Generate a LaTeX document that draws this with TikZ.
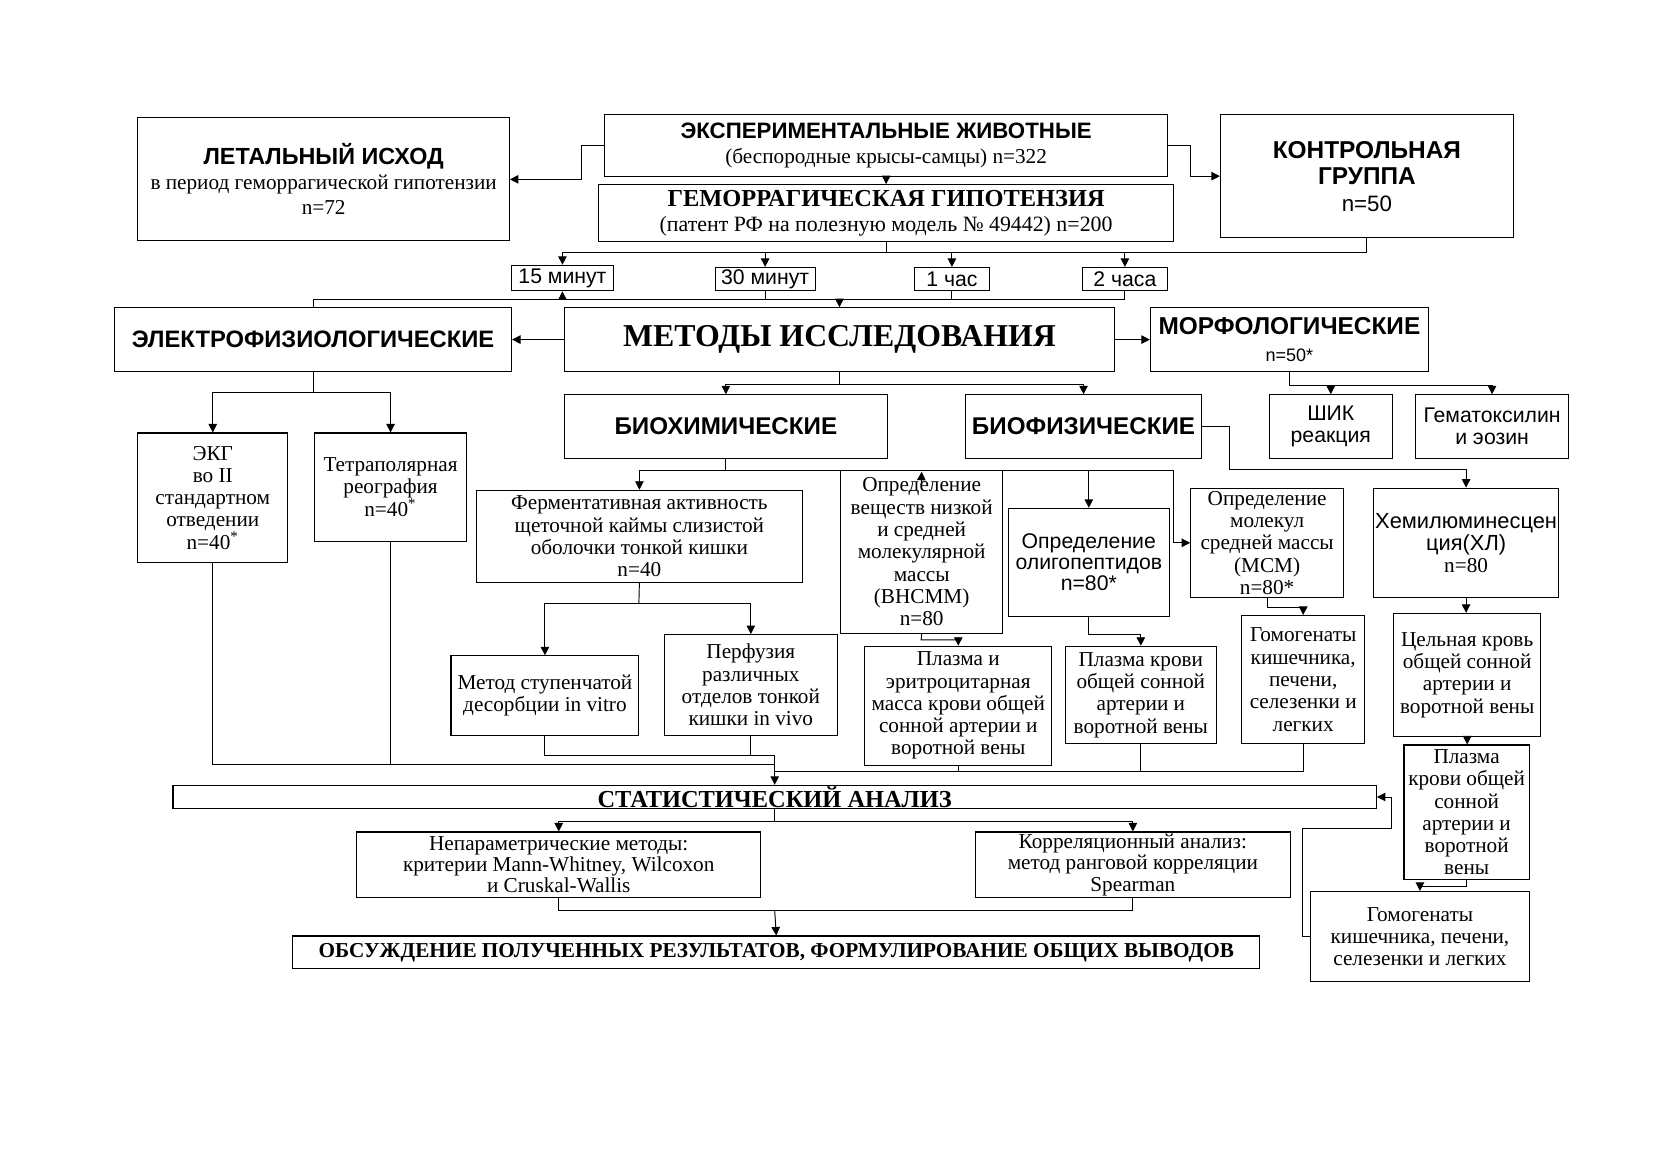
\documentclass[tikz,border=0pt]{standalone}
\usepackage{fontspec}
\setmainfont{Liberation Serif}
\setsansfont{Liberation Sans}
\usetikzlibrary{arrows.meta}
\tikzset{
  bx/.style={draw, line width=0.5pt, inner sep=0pt, align=center, font=\fontsize{10}{10.5}\selectfont},
  arr/.style={-{Triangle[length=4pt,width=4pt]}, line width=0.45pt},
  ln/.style={line width=0.45pt},
}
\newcommand\mkbox[7][]{\node[bx,#1,minimum width={(#5-#3)*0.5pt},minimum height={(#6-#4)*0.5pt}] (#2) at ({(#3+#5)/2},{(#4+#6)/2}) {#7};}
\newcommand\hsb{\sffamily\bfseries}
\begin{document}
\begin{tikzpicture}[x=0.5pt,y=-0.5pt]
\fill[white] (0,0) rectangle (1568,1107);
\useasboundingbox (0,0) rectangle (1568,1107);

% top row
\mkbox[font=\fontsize{10}{11.75}\selectfont]{let}{130}{111}{480}{227}{{\hsb\fontsize{11}{11.75}\selectfont ЛЕТАЛЬНЫЙ ИСХОД}\\в период геморрагической гипотензии\\n=72}
\mkbox[font=\fontsize{10}{12}\selectfont]{exp}{570}{108}{1100}{166}{{\hsb\fontsize{10.5}{12}\selectfont ЭКСПЕРИМЕНТАЛЬНЫЕ ЖИВОТНЫЕ}\\(беспородные крысы-самцы) n=322}
\mkbox[font=\fontsize{10.3}{11.5}\selectfont]{gem}{564}{174}{1106}{228}{{\bfseries\fontsize{11.5}{11.5}\selectfont ГЕМОРРАГИЧЕСКАЯ ГИПОТЕНЗИЯ}\\(патент РФ на полезную модель № 49442) n=200}
\mkbox[font=\sffamily\fontsize{10.5}{12.5}\selectfont]{ctrl}{1150}{108}{1426}{224}{{\bfseries\fontsize{11.5}{12.5}\selectfont КОНТРОЛЬНАЯ}\\{\bfseries\fontsize{11.5}{12.5}\selectfont ГРУППА}\\n=50}

% time boxes
\mkbox[font=\sffamily\fontsize{10}{12}\selectfont]{t15}{482}{250}{578}{274}{15 минут}
\mkbox[font=\sffamily\fontsize{10}{12}\selectfont]{t30}{674}{252}{768}{274}{30 минут}
\mkbox[font=\sffamily\fontsize{10}{12}\selectfont]{t1}{862}{252}{932}{274}{1 час}
\mkbox[font=\sffamily\fontsize{10}{12}\selectfont]{t2}{1020}{252}{1100}{274}{2 часа}

% methods row
\mkbox[font=\hsb\fontsize{11.2}{13}\selectfont]{el}{108}{290}{482}{350}{ЭЛЕКТРОФИЗИОЛОГИЧЕСКИЕ}
\mkbox[font=\bfseries\fontsize{15}{17}\selectfont]{met}{532}{290}{1050}{350}{\raisebox{-1.5pt}{МЕТОДЫ ИССЛЕДОВАНИЯ}}
\mkbox[font=\sffamily\fontsize{8.5}{13}\selectfont]{mor}{1084}{290}{1346}{350}{{\bfseries\fontsize{11.5}{13}\selectfont МОРФОЛОГИЧЕСКИЕ}\\n=50*}

% second level
\mkbox{ekg}{130}{408}{271}{530}{ЭКГ\\во II\\стандартном\\отведении\\n=40\textsuperscript{*}}
\mkbox{tet}{296}{408}{440}{510}{Тетраполярная\\реография\\n=40\textsuperscript{*}}
\mkbox[font=\hsb\fontsize{11.4}{13}\selectfont]{bioch}{532}{372}{836}{432}{БИОХИМИЧЕСКИЕ}
\mkbox[font=\hsb\fontsize{11.4}{13}\selectfont]{biof}{910}{372}{1132}{432}{БИОФИЗИЧЕСКИЕ}
\mkbox[font=\sffamily\fontsize{10}{10.5}\selectfont]{shik}{1196}{372}{1312}{432}{ШИК\\реакция}
\mkbox[font=\sffamily\fontsize{10}{10.5}\selectfont]{hem}{1334}{372}{1478}{432}{Гематоксилин\\и эозин}

% third level
\mkbox{ferm}{449}{462}{756}{549}{Ферментативная активность\\щеточной каймы слизистой\\оболочки тонкой кишки\\n=40}
\mkbox{vn}{792}{443}{945}{597}{Определение\\веществ низкой\\и средней\\молекулярной\\массы\\(ВНСММ)\\n=80}
\mkbox[font=\sffamily\fontsize{10}{10}\selectfont]{olig}{950}{479}{1102}{581}{Определение\\олигопептидов\\n=80*}
\mkbox{msm}{1122}{460}{1266}{563}{Определение\\молекул\\средней массы\\(МСМ)\\n=80*}
\mkbox[font=\sffamily\fontsize{10.3}{10.3}\selectfont]{chem}{1294}{460}{1469}{563}{Хемилюминесцен\\ция(ХЛ)\\{\rmfamily\fontsize{10}{10.3}\selectfont n=80}}

% fourth level
\mkbox{step}{425}{618}{602}{693}{Метод ступенчатой\\десорбции in vitro}
\mkbox{perf}{626}{598}{789}{693}{Перфузия\\различных\\отделов тонкой\\кишки in vivo}
\mkbox{pl1}{815}{609}{991}{721}{Плазма и\\эритроцитарная\\масса крови общей\\сонной артерии и\\воротной вены}
\mkbox{pl2}{1004}{609}{1146}{701}{Плазма крови\\общей сонной\\артерии и\\воротной вены}
\mkbox{hom1}{1170}{580}{1286}{701}{Гомогенаты\\кишечника,\\печени,\\селезенки и\\легких}
\mkbox{cel}{1313}{578}{1452}{694}{Цельная кровь\\общей сонной\\артерии и\\воротной вены}
\mkbox{pl3}{1323}{702}{1441}{829}{Плазма\\крови общей\\сонной\\артерии и\\воротной\\вены}
\mkbox{hom2}{1235}{840}{1441}{925}{Гомогенаты\\кишечника, печени,\\селезенки и легких}

% statistics
\mkbox[font=\bfseries\fontsize{11.5}{12}\selectfont]{stat}{163}{740}{1297}{762}{СТАТИСТИЧЕСКИЙ АНАЛИЗ}
\mkbox[font=\fontsize{10}{10}\selectfont]{np}{336}{784}{717}{846}{Непараметрические методы:\\критерии Mann-Whitney, Wilcoxon\\и Cruskal-Wallis}
\mkbox[font=\fontsize{10}{10}\selectfont]{corr}{919}{784}{1216}{846}{Корреляционный анализ:\\метод ранговой корреляции\\Spearman}
\mkbox[font=\bfseries\fontsize{10}{12}\selectfont]{obs}{276}{882}{1187}{913}{ОБСУЖДЕНИЕ ПОЛУЧЕННЫХ РЕЗУЛЬТАТОВ, ФОРМУЛИРОВАНИЕ ОБЩИХ ВЫВОДОВ}

% ---- connectors ----
\draw[arr] (exp.west) -- (548,137) |- (let.east);
\draw[arr] (exp.east) -- (1122,137) |- (ctrl.west);
\draw[arr] (exp) -- (gem);

\coordinate (b1) at (835,238);
\draw[ln] (gem.south) -- (b1);
\draw[ln] (ctrl.south) |- (b1);
\draw[arr] (b1) -| (t15.north);
\draw[arr] (b1) -| (t30.north);
\draw[arr] (b1) -| (t1.north);
\draw[arr] (b1) -| (t2.north);

\coordinate (b2) at (791,282);
\draw[ln] (t30.south) |- (b2);
\draw[ln] (t1.south) |- (b2);
\draw[ln] (t2.south) |- (b2);
\draw[arr] (b2) -- (met.north);
\draw[arr] (b2) -| (t15.south);
\draw[ln] (b2) -| (el.north);

\draw[arr] (met.west) -- (el.east);
\draw[arr] (met.east) -- (mor.west);

\coordinate (b3) at (295,370);
\draw[ln] (el.south) -- (b3);
\draw[arr] (b3) -| (ekg.north);
\draw[arr] (b3) -| (tet.north);

\coordinate (b4) at (791,362);
\draw[ln] (met.south) -- (b4);
\draw[arr] (b4) -| (bioch.north);
\draw[arr] (b4) -| (biof.north);

\coordinate (b5) at (1215,363);
\draw[ln] (mor.south) -- (b5);
\draw[arr] (b5) -| (shik.north);
\draw[arr] (b5) -| (hem.north);

\coordinate (b6) at (684,443);
\draw[ln] (bioch.south) -- (b6);
\draw[arr] (b6) -| (ferm.north);
\draw[arr] (b6) -| (olig.north);
\draw[arr] (b6) -- (1106,443) |- (msm.west);
\coordinate (vnup) at (868,457);
\draw[arr] (vnup) -- ([yshift=-1pt]vn.north);

\draw[arr] (biof.east) -| (1159,442) -| (chem.north);

\coordinate (b7) at (602,569);
\draw[ln] (ferm.south) -- (b7);
\draw[arr] (b7) -| (step.north);
\draw[arr] (b7) -| (perf.north);

\draw[arr] (vn.south) -- (868,603) -| (pl1.north);
\draw[arr] (olig.south) -- (1026,598) -| (pl2.north);
\draw[arr] (msm.south) -- (1194,572) -| (hom1.north);
\draw[arr] (chem.south) -- (chem.south |- cel.north);
\draw[arr] (cel.south) -- (cel.south |- pl3.north);
\draw[arr] (pl3.south) -- (1382,835) -| (hom2.north);
\draw[arr] (hom2.west) -| (1227,781) -| (1311,751) -- (stat.east);

\coordinate (b8) at (730,720);
\coordinate (b9) at (730,712);
\coordinate (b10) at (730,727);
\draw[ln] (ekg.south) |- (b8);
\draw[ln] (tet.south) |- (b8);
\draw[ln] (step.south) |- (b9);
\draw[ln] (perf.south) |- (b9);
\draw[ln] (pl1.south) |- (b10);
\draw[ln] (pl2.south) |- (b10);
\draw[ln] (hom1.south) |- (b10);
\draw[arr] (b9) -- (stat.north);

\coordinate (b11) at (730,774);
\draw[ln] (stat.south) -- (b11);
\draw[arr] (b11) -| (np.north);
\draw[arr] (b11) -| (corr.north);

\coordinate (b12) at (730,858);
\draw[ln] (np.south) |- (b12);
\draw[ln] (corr.south) |- (b12);
\draw[arr] (b12) -- (obs.north);
\end{tikzpicture}
\end{document}
